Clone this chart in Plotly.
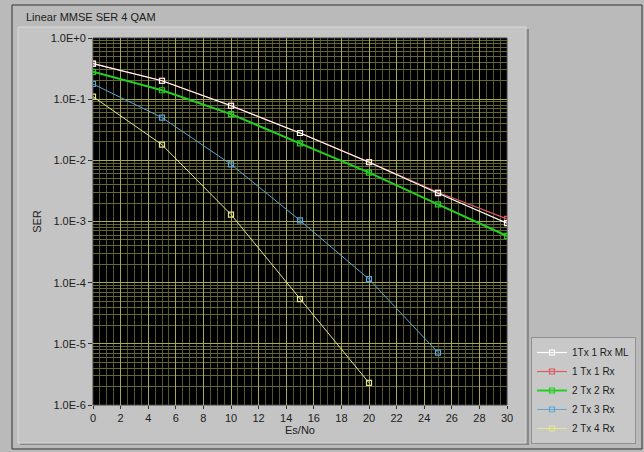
import plotly.graph_objects as go

# ---- data ----
es_no = [0, 5, 10, 15, 20, 25, 30]
ser_1x1_ml = [0.38, 0.20, 0.078, 0.028, 0.0093, 0.0029, 0.00094]
ser_1x1 = [0.38, 0.20, 0.078, 0.028, 0.0094, 0.0030, 0.0011]
ser_2x2 = [0.28, 0.14, 0.057, 0.019, 0.0063, 0.0019, 0.00058]
es_no_2x3 = [0, 5, 10, 15, 20, 25]
ser_2x3 = [0.177, 0.050, 0.0086, 0.00104, 0.000114, 0.0000072]
es_no_2x4 = [0, 5, 10, 15, 20]
ser_2x4 = [0.11, 0.018, 0.0013, 0.000054, 0.0000023]

y_tickvals = [1, 1e-1, 1e-2, 1e-3, 1e-4, 1e-5, 1e-6]
y_ticktext = ["1.0E+0", "1.0E-1", "1.0E-2", "1.0E-3", "1.0E-4", "1.0E-5", "1.0E-6"]

W, H = 644, 452
L, R, T, B = 93, 507, 38, 405


def px(x):
    return (x - L) / (R - L)


def py(y):
    return (B - y) / (B - T)


fig = go.Figure()

series = [
    ("1 Tx 1 Rx", es_no, ser_1x1, "#e05a5a", 1.2, 2),
    ("1Tx 1 Rx ML", es_no, ser_1x1_ml, "#ffffff", 1.2, 1),
    ("2 Tx 2 Rx", es_no, ser_2x2, "#22d022", 2, 3),
    ("2 Tx 3 Rx", es_no_2x3, ser_2x3, "#5aa6dc", 1, 4),
    ("2 Tx 4 Rx", es_no_2x4, ser_2x4, "#e6e68c", 1, 5),
]
for name, xs, ys, col, w, rank in series:
    fig.add_trace(go.Scatter(
        x=xs, y=ys, name=name, mode="lines+markers",
        line=dict(color=col, width=w),
        marker=dict(symbol="square-open", size=5, color=col, line=dict(width=1.2, color=col)),
        legendrank=rank,
    ))

shapes = [
    # outer border
    dict(type="rect", xref="paper", yref="paper", x0=px(12), x1=px(642), y0=py(449), y1=py(5),
         line=dict(color="#303030", width=1), fillcolor="#bababa", layer="below"),
    # inner graph panel shadow
    dict(type="rect", xref="paper", yref="paper", x0=px(20), x1=px(529), y0=py(445), y1=py(29),
         line=dict(width=0), fillcolor="#8a8a8a", layer="below"),
    # inner graph panel
    dict(type="rect", xref="paper", yref="paper", x0=px(18), x1=px(526), y0=py(443), y1=py(27),
         line=dict(color="#d8d8d8", width=1), fillcolor="#c4c4c4", layer="below"),
    # plot area background
    dict(type="rect", xref="paper", yref="paper", x0=0, x1=1, y0=0, y1=1,
         line=dict(color="#404040", width=1), fillcolor="#000000", layer="below"),
]

fig.update_layout(
    width=W, height=H,
    margin=dict(l=L, r=W - R, t=T, b=H - B, pad=0, autoexpand=False),
    paper_bgcolor="#bababa",
    plot_bgcolor="#000000",
    font=dict(family="Liberation Sans, DejaVu Sans, sans-serif", size=11, color="#202020"),
    shapes=shapes,
    showlegend=True,
    legend=dict(
        x=px(531), y=py(337), xanchor="left", yanchor="top",
        bgcolor="#c8c8c8", bordercolor="#909090", borderwidth=1,
        font=dict(size=10, color="#202020"),
        tracegroupgap=0, itemwidth=30,
    ),
    annotations=[
        dict(text="Linear MMSE SER 4 QAM", xref="paper", yref="paper",
             x=px(24), y=py(17), xanchor="left", yanchor="middle", showarrow=False,
             font=dict(size=11, color="#202020")),
    ],
)

fig.update_xaxes(
    range=[0, 30], dtick=2, tick0=0,
    showgrid=True, gridcolor="#a8a850", gridwidth=1,
    minor=dict(dtick=0.5, showgrid=True, gridcolor="#55552c", gridwidth=1),
    ticks="outside", ticklen=3, tickcolor="#303030",
    ticklabelstandoff=0,
    zeroline=False, showline=False,
    title=dict(text="Es/No", standoff=3, font=dict(size=11)),
    tickfont=dict(size=11),
)
fig.update_yaxes(
    type="log", range=[-6, 0],
    tickvals=y_tickvals, ticktext=y_ticktext,
    showgrid=True, gridcolor="#a8a850", gridwidth=1,
    minor=dict(dtick="D1", showgrid=True, gridcolor="#66662f", gridwidth=1),
    ticks="outside", ticklen=4, tickcolor="#303030",
    zeroline=False, showline=False,
    title=dict(text="SER", standoff=6, font=dict(size=11)),
    tickfont=dict(size=11),
)

fig.write_html("out.html")
